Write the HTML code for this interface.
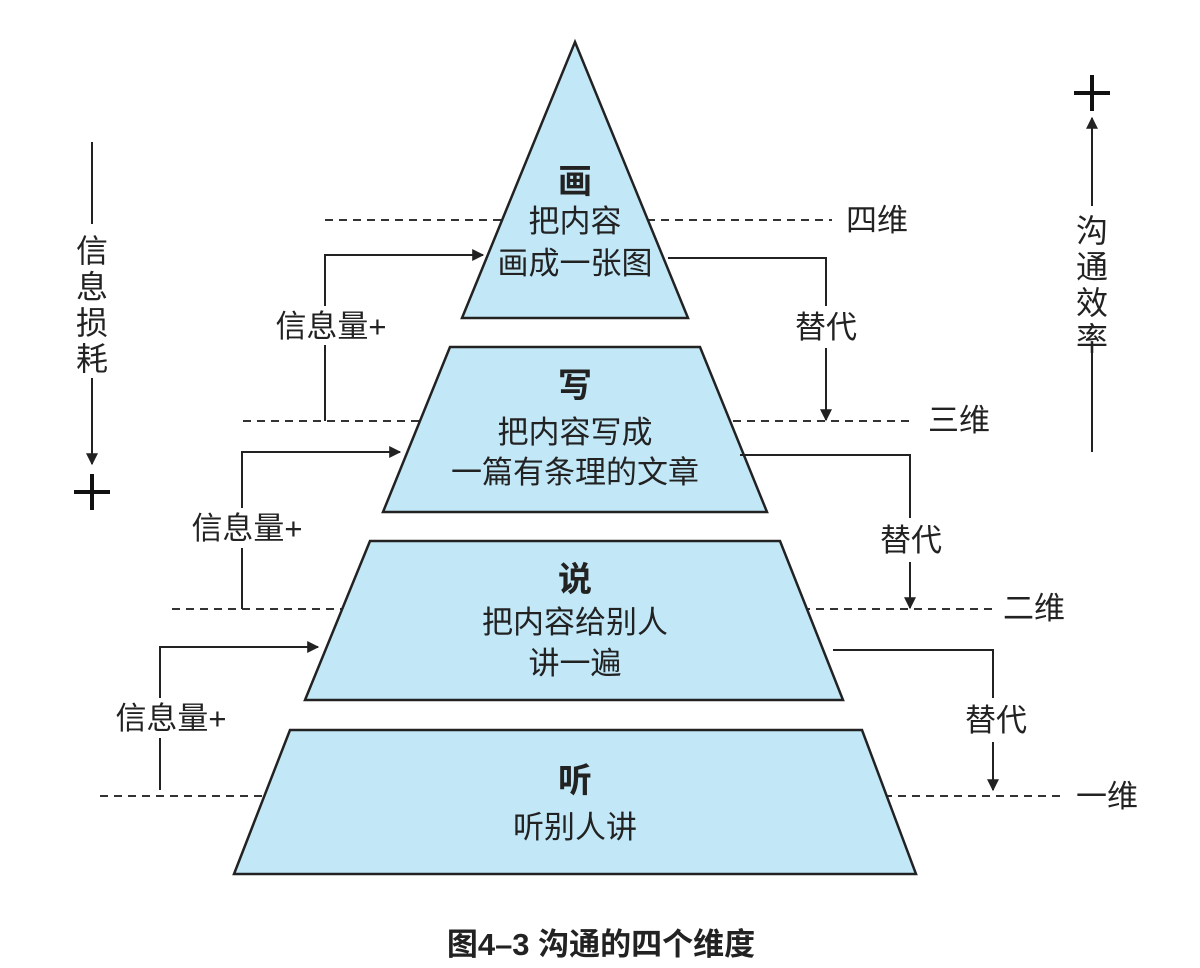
<!DOCTYPE html>
<html><head><meta charset="utf-8"><style>
html,body{margin:0;padding:0;background:#fff;}
svg{display:block;}
text{font-family:"Liberation Sans","Noto Sans CJK SC",sans-serif;fill:#222;}
</style></head><body>
<svg width="1200" height="968" viewBox="0 0 1200 968" xmlns="http://www.w3.org/2000/svg">
<defs>
<marker id="a" viewBox="0 0 10 10" refX="9" refY="5" markerWidth="13" markerHeight="12" markerUnits="userSpaceOnUse" orient="auto"><path d="M0,0 L10,5 L0,10 z" fill="#222"/></marker>
<marker id="b" viewBox="0 0 10 10" refX="9" refY="5" markerWidth="14" markerHeight="12" markerUnits="userSpaceOnUse" orient="auto"><path d="M0,0 L10,5 L0,10 z" fill="#222"/></marker>
</defs>
<g stroke="#333" stroke-width="2" stroke-dasharray="8,6" fill="none">
<line x1="325" y1="220" x2="832" y2="220"/>
<line x1="243" y1="421" x2="912" y2="421"/>
<line x1="172" y1="609" x2="992" y2="609"/>
<line x1="100" y1="796" x2="1066" y2="796"/>
</g>
<g fill="#c2e8f8" stroke="#222" stroke-width="2.5">
<polygon points="575,42 688,318 462,318"/>
<polygon points="450,347 700,347 767,512 383,512"/>
<polygon points="370,541 780,541 843,700 305,700"/>
<polygon points="290,730 862,730 916,874 234,874"/>
</g>
<g stroke="#222" stroke-width="2" fill="none">
<polyline points="325,421 325,345"/><polyline points="325,306 325,255 483,255" marker-end="url(#a)"/>
<polyline points="242,609 242,548"/><polyline points="242,508 242,452 400,452" marker-end="url(#a)"/>
<polyline points="160,790 160,738"/><polyline points="160,698 160,647 318,647" marker-end="url(#a)"/>
<polyline points="668,258 826,258 826,306"/><line x1="826" y1="348" x2="826" y2="420" marker-end="url(#a)"/>
<polyline points="740,455 910,455 910,518"/><line x1="910" y1="562" x2="910" y2="608" marker-end="url(#a)"/>
<polyline points="833,650 993,650 993,698"/><line x1="993" y1="742" x2="993" y2="790" marker-end="url(#a)"/>
<line x1="92" y1="142" x2="92" y2="224"/><line x1="92" y1="378" x2="92" y2="464" marker-end="url(#b)"/>
<line x1="1092" y1="206" x2="1092" y2="118" marker-end="url(#b)"/><line x1="1092" y1="352" x2="1092" y2="452"/>
</g>
<g stroke="#111" stroke-width="4">
<line x1="74" y1="492" x2="110" y2="492"/><line x1="92" y1="474" x2="92" y2="510"/>
<line x1="1074" y1="93" x2="1110" y2="93"/><line x1="1092" y1="75" x2="1092" y2="111"/>
</g>
<g font-size="31" text-anchor="middle">
<text x="575" y="193" font-weight="bold" font-size="34">画</text>
<text x="575" y="232">把内容</text>
<text x="575" y="274">画成一张图</text>
<text x="575" y="397" font-weight="bold" font-size="34">写</text>
<text x="575" y="443">把内容写成</text>
<text x="575" y="483">一篇有条理的文章</text>
<text x="575" y="591" font-weight="bold" font-size="34">说</text>
<text x="575" y="633">把内容给别人</text>
<text x="575" y="674">讲一遍</text>
<text x="575" y="792" font-weight="bold" font-size="34">听</text>
<text x="575" y="838">听别人讲</text>
<text x="331" y="337">信息量+</text>
<text x="247" y="539">信息量+</text>
<text x="171" y="729">信息量+</text>
<text x="826" y="338">替代</text>
<text x="911" y="551">替代</text>
<text x="996" y="731">替代</text>
</g>
<g font-size="31">
<text x="846" y="231">四维</text>
<text x="928" y="431">三维</text>
<text x="1003" y="619">二维</text>
<text x="1076" y="807">一维</text>
</g>
<g font-size="32" text-anchor="middle">
<text x="92" y="262">信</text><text x="92" y="298">息</text><text x="92" y="334">损</text><text x="92" y="370">耗</text>
<text x="1092" y="242">沟</text><text x="1092" y="278">通</text><text x="1092" y="314">效</text><text x="1092" y="350">率</text>
</g>
<text x="601" y="955" font-size="31" font-weight="bold" text-anchor="middle">图4–3 沟通的四个维度</text>
</svg>
</body></html>
